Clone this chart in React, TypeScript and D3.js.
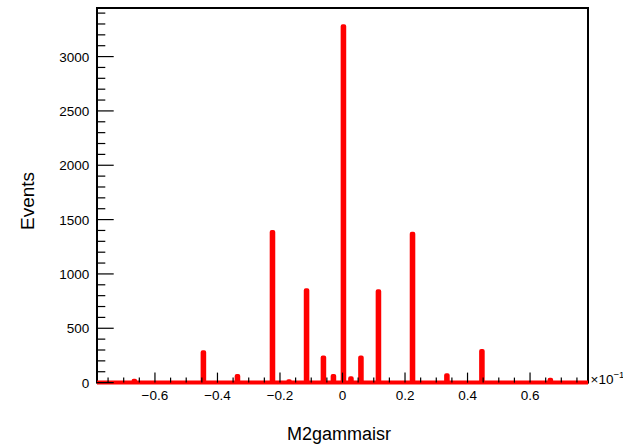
import React from "react";
import * as d3 from "d3";

// Histogram peaks (bin centre in units of 1e-1, counts)
const peakCenters = [-0.666, -0.445, -0.336, -0.224, -0.171, -0.115, -0.061, -0.029, 0.003, 0.027, 0.059, 0.115, 0.224, 0.334, 0.446, 0.665];
const peakCounts = [18, 280, 60, 1385, 12, 850, 230, 60, 3280, 40, 230, 840, 1370, 67, 290, 27];
const binWidth = 0.005;

const xDomain = [-0.7854, 0.7854];
const yMax = 3447;
const xTickLabels = ["−0.6", "−0.4", "−0.2", "0", "0.2", "0.4", "0.6"];
const xTickValues = [-0.6, -0.4, -0.2, 0, 0.2, 0.4, 0.6];
const yTickValues = [0, 500, 1000, 1500, 2000, 2500, 3000];

const W = 623, H = 445;
const L = 97, R = 588, T = 8, B = 382.6;

export default function App() {
  const x = d3.scaleLinear().domain(xDomain).range([L, R]);
  const y = d3.scaleLinear().domain([0, yMax]).range([B, T]);

  const pts: [number, number][] = [[x(xDomain[0]), y(0)]];
  peakCenters.forEach((c, i) => {
    const x0 = x(c - binWidth / 2), x1 = x(c + binWidth / 2);
    pts.push([x0, y(0)], [x0, y(peakCounts[i])], [x1, y(peakCounts[i])], [x1, y(0)]);
  });
  pts.push([x(xDomain[1]), y(0)]);
  const path = d3.line()(pts) as string;

  const xMinor = d3.range(-15, 16).map((k) => k * 0.05);
  const yMinor = d3.range(0, 35).map((k) => k * 100);
  const font = "'Liberation Sans', Arial, Helvetica, sans-serif";

  return (
    <svg width={W} height={H} style={{ position: "absolute", left: 0, top: 0, background: "#fff" }}>
      <rect x={0} y={0} width={W} height={H} fill="#fff" />
      <rect x={L} y={T} width={R - L} height={B - T} fill="none" stroke="#000" strokeWidth={2} />
      <path d={path} fill="none" stroke="#ff0000" strokeWidth={4} strokeLinejoin="round" />
      {xMinor.map((v, i) => {
        const major = xTickValues.some((m) => Math.abs(m - v) < 1e-9);
        return <line key={"xm" + i} x1={x(v)} x2={x(v)} y1={B} y2={B - (major ? 10 : 5)} stroke="#000" strokeWidth={1.2} />;
      })}
      {yMinor.map((v, i) => {
        const major = v % 500 === 0;
        return <line key={"ym" + i} x1={L} x2={L + (major ? 16.7 : 8.3)} y1={y(v)} y2={y(v)} stroke="#000" strokeWidth={1.2} />;
      })}
      {xTickValues.map((v, i) => (
        <text key={"xl" + i} x={x(v)} y={400} textAnchor="middle" fontFamily={font} fontSize={13.5} fill="#000">{xTickLabels[i]}</text>
      ))}
      {yTickValues.map((v, i) => (
        <text key={"yl" + i} x={89.3} y={y(v) + 5} textAnchor="end" fontFamily={font} fontSize={13.5} fill="#000">{v}</text>
      ))}
      <text x={590.5} y={383.5} fontFamily={font} fontSize={13.5} fill="#000">×10<tspan dy={-6} fontSize={9.5}>−1</tspan></text>
      <text x={339} y={440} textAnchor="middle" fontFamily={font} fontSize={18} fill="#000">M2gammaisr</text>
      <text transform={`translate(33.5,201) rotate(-90)`} textAnchor="middle" fontFamily={font} fontSize={19} fill="#000">Events</text>
    </svg>
  );
}
